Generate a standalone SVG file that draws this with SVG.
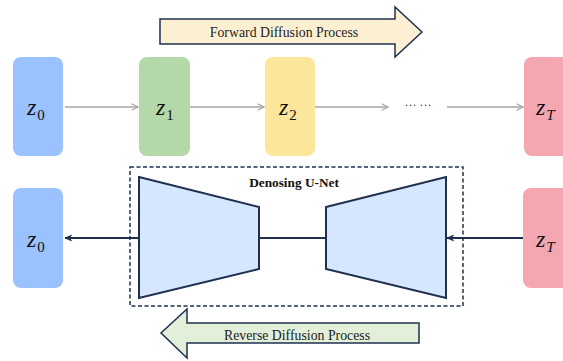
<svg xmlns="http://www.w3.org/2000/svg" width="563" height="361" viewBox="0 0 563 361">
<defs>
<style>
.lbl{font-family:"Liberation Serif","Times New Roman","DejaVu Serif",serif;font-style:italic;fill:#111}
.z{font-size:24px}
.sub{font-size:15px;font-style:normal}
.subi{font-size:15px}
.proc{font-family:"Liberation Serif","Times New Roman","DejaVu Serif",serif;font-size:13.8px;fill:#222}
.gray{stroke:#a6a6a6;stroke-width:1.5;fill:none}
.navy{stroke:#1f3050;stroke-width:1.8;fill:none}
.trap{fill:#d6e6fc;stroke:#1f2f4f;stroke-width:2}
.bigarrow{stroke:#1f3050;stroke-width:1.5}
</style>
<marker id="ag" viewBox="0 0 10 10" refX="9" refY="5" markerWidth="8" markerHeight="8" orient="auto" markerUnits="userSpaceOnUse">
<path d="M1,1 L9,5 L1,9" fill="none" stroke="#a6a6a6" stroke-width="1.5"/>
</marker>
<marker id="an" viewBox="0 0 10 10" refX="9" refY="5" markerWidth="8" markerHeight="8" orient="auto" markerUnits="userSpaceOnUse">
<path d="M1,1.5 L9,5 L1,8.5 L3,5 Z" fill="#1f3050" stroke="#1f3050" stroke-width="1"/>
</marker>
</defs>
<rect width="563" height="361" fill="#fff"/>

<g id="forward-arrow">
<polygon class="bigarrow" fill="#fdf0d2" points="160,19 395,19 395,7 422,32 395,57 395,44 160,44"/>
<text class="proc" x="284" y="37" text-anchor="middle">Forward Diffusion Process</text>
</g>

<g id="top-z0">
<rect x="13" y="57" width="50" height="99" rx="8" fill="#99c2ff"/>
<text class="lbl" x="27" y="115"><tspan class="z">z</tspan><tspan class="sub" dx="1" dy="5">0</tspan></text>
</g>
<g id="top-z1">
<rect x="139" y="57" width="51" height="99" rx="8" fill="#b5d8a8"/>
<text class="lbl" x="156" y="115"><tspan class="z">z</tspan><tspan class="sub" dx="1" dy="5">1</tspan></text>
</g>
<g id="top-z2">
<rect x="265" y="57" width="50" height="99" rx="8" fill="#fbe69a"/>
<text class="lbl" x="279" y="115"><tspan class="z">z</tspan><tspan class="sub" dx="1" dy="5">2</tspan></text>
</g>
<g id="dots">
<text x="418" y="106" text-anchor="middle" font-family="Liberation Serif, serif" font-size="12" fill="#333">… …</text>
</g>
<g id="top-zT">
<rect x="524" y="57" width="50" height="99" rx="8" fill="#f4a6b1"/>
<text class="lbl" x="536" y="115"><tspan class="z">z</tspan><tspan class="subi" dx="1" dy="5">T</tspan></text>
</g>

<g id="bottom-z0">
<rect x="13" y="188" width="50" height="100" rx="8" fill="#99c2ff"/>
<text class="lbl" x="27" y="247"><tspan class="z">z</tspan><tspan class="sub" dx="1" dy="5">0</tspan></text>
</g>
<g id="bottom-zT">
<rect x="523" y="188" width="50" height="100" rx="8" fill="#f4a6b1"/>
<text class="lbl" x="536" y="247"><tspan class="z">z</tspan><tspan class="subi" dx="1" dy="5">T</tspan></text>
</g>

<g id="unet">
<rect x="130" y="167" width="333" height="139" fill="none" stroke="#1f3050" stroke-width="1.5" stroke-dasharray="4,2.5"/>
<text x="294" y="187" text-anchor="middle" font-family="Liberation Serif, DejaVu Serif, serif" font-weight="bold" font-size="13.3" fill="#111">Denosing U-Net</text>
<polygon class="trap" points="139,177 259,207 259,269 139,298"/>
<polygon class="trap" points="326,207 446,177 446,298 326,269"/>
</g>

<g id="reverse-arrow">
<polygon class="bigarrow" fill="#e2efd9" points="419,323 187,323 187,309 161,333 187,358 187,343 419,343"/>
<text class="proc" x="297" y="340" text-anchor="middle">Reverse Diffusion Process</text>
</g>

<g id="connectors">
<line class="gray" x1="65" y1="107" x2="138" y2="107" marker-end="url(#ag)"/>
<line class="gray" x1="190" y1="107" x2="264" y2="107" marker-end="url(#ag)"/>
<line class="gray" x1="315" y1="107" x2="388" y2="107" marker-end="url(#ag)"/>
<line class="gray" x1="447" y1="107" x2="523" y2="107" marker-end="url(#ag)"/>
<line class="navy" x1="259" y1="238" x2="326" y2="238"/>
<line class="navy" x1="523" y1="238" x2="447" y2="238" marker-end="url(#an)"/>
<line class="navy" x1="139" y1="238" x2="65" y2="238" marker-end="url(#an)"/>
</g>
</svg>
